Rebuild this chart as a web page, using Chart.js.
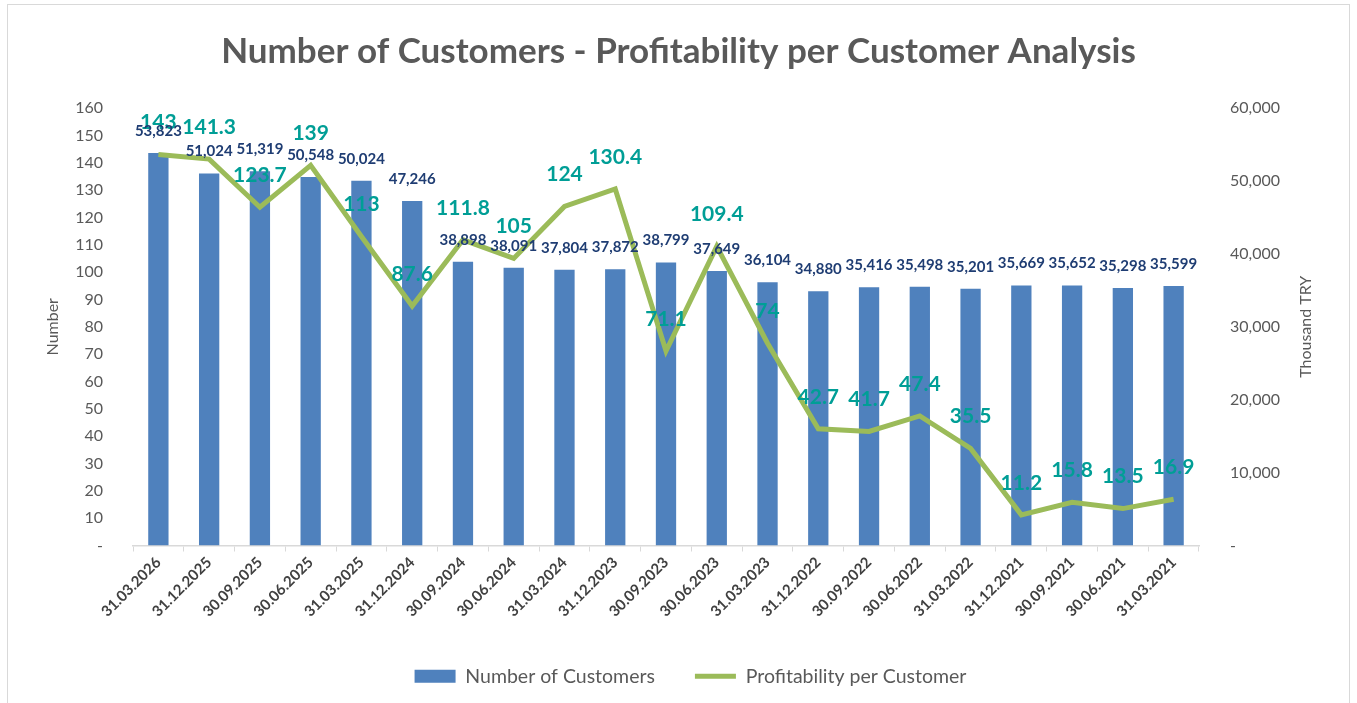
<!DOCTYPE html>
<html>
<head>
<meta charset="utf-8">
<script src="https://cdn.jsdelivr.net/npm/chart.js@4.4.1/dist/chart.umd.min.js"></script>
<style>
  html, body { margin: 0; padding: 0; background: #fff; }
  #wrap { width: 1357px; height: 703px; }
</style>
</head>
<body>
<div id="wrap"><canvas id="myChart"></canvas></div>
<script>
const fechas = ['31.03.2026', '31.12.2025', '30.09.2025', '30.06.2025', '31.03.2025', '31.12.2024',
  '30.09.2024', '30.06.2024', '31.03.2024', '31.12.2023', '30.09.2023', '30.06.2023', '31.03.2023',
  '31.12.2022', '30.09.2022', '30.06.2022', '31.03.2022', '31.12.2021', '30.09.2021', '30.06.2021', '31.03.2021'];
const clientes = [53823, 51024, 51319, 50548, 50024, 47246, 38898, 38091, 37804, 37872, 38799,
  37649, 36104, 34880, 35416, 35498, 35201, 35669, 35652, 35298, 35599];
const rentabilidad = [143, 141.3, 123.7, 139, 113, 87.6, 111.8, 105, 124, 130.4, 71.1,
  109.4, 74, 42.7, 41.7, 47.4, 35.5, 11.2, 15.8, 13.5, 16.9];
const ticksIzq = [0, 160, 10];
const ticksDer = [0, 60000, 10000];

const fuente = 'Lato, "Open Sans", sans-serif';

// labels, axis titles and the frame
const etiquetas = {
  id: 'etiquetas',
  afterLayout(chart) {
    // legend sits a little right of centre in the original
    chart.legend.left += 12;
    chart.legend.right += 12;
  },
  beforeDraw(chart) {
    const ctx = chart.ctx;
    ctx.save();
    ctx.strokeStyle = '#D9D9D9';
    ctx.lineWidth = 1;
    ctx.strokeRect(7.5, 4.5, 1342, 740);
    ctx.restore();
  },
  afterDatasetsDraw(chart) {
    const ctx = chart.ctx;
    ctx.save();
    ctx.textAlign = 'center';
    ctx.textBaseline = 'middle';

    ctx.font = 'bold 21px ' + fuente;
    ctx.fillStyle = '#009E96';
    chart.getDatasetMeta(1).data.forEach((p, i) => {
      ctx.fillText(String(rentabilidad[i]), p.x, p.y - 32);
    });

    ctx.font = 'bold 15px ' + fuente;
    ctx.fillStyle = '#1F3D73';
    chart.getDatasetMeta(0).data.forEach((b, i) => {
      ctx.fillText(clientes[i].toLocaleString('en-US'), b.x, b.y - 22);
    });

    ctx.font = '16px ' + fuente;
    ctx.fillStyle = '#595959';
    const mid = (chart.chartArea.top + chart.chartArea.bottom) / 2;
    ctx.translate(53, mid);
    ctx.rotate(-Math.PI / 2);
    ctx.fillText('Number', 0, 0);
    ctx.rotate(Math.PI / 2);
    ctx.translate(1306 - 53, 0);
    ctx.rotate(-Math.PI / 2);
    ctx.fillText('Thousand TRY', 0, 0);
    ctx.restore();
  }
};

function graficar() {
  const ctx = document.getElementById('myChart').getContext('2d');
  return new Chart(ctx, {
    type: 'bar',
    data: {
      labels: fechas,
      datasets: [{
        type: 'bar',
        label: 'Number of Customers',
        data: clientes,
        backgroundColor: '#4F81BD',
        borderWidth: 0,
        yAxisID: 'yDer',
        categoryPercentage: 1,
        barPercentage: 0.4,
        pointStyle: 'rect',
        order: 1
      }, {
        type: 'line',
        label: 'Profitability per Customer',
        data: rentabilidad,
        borderColor: '#9BBB59',
        backgroundColor: '#9BBB59',
        borderWidth: 5,
        pointRadius: 0,
        tension: 0,
        yAxisID: 'yIzq',
        pointStyle: 'line',
        order: 0
      }]
    },
    options: {
      responsive: true,
      maintainAspectRatio: false,
      animation: false,
      layout: { padding: { left: 0, right: 0, top: 0, bottom: 7 } },
      plugins: {
        title: {
          display: true,
          text: 'Number of Customers - Profitability per Customer Analysis',
          color: '#595959',
          font: { family: fuente, size: 35, weight: 'bold' },
          padding: { top: 31, bottom: 35 }
        },
        legend: {
          position: 'bottom',
          labels: {
            usePointStyle: true,
            pointStyleWidth: 41,
            boxHeight: 13,
            padding: 40,
            color: '#595959',
            font: { family: fuente, size: 19.5 },
            sort: (a, b) => a.datasetIndex - b.datasetIndex
          }
        },
        tooltip: { enabled: false }
      },
      scales: {
        x: {
          offset: true,
          grid: { offset: true, drawOnChartArea: false, drawTicks: true, tickLength: 6, color: '#D9D9D9' },
          border: { color: '#D9D9D9', width: 1.5 },
          ticks: {
            minRotation: 45, maxRotation: 45, autoSkip: false,
            color: '#404040', padding: 2,
            font: { family: fuente, size: 15, weight: 'bold' }
          },
          afterFit(scale) { scale.height = 81; }
        },
        yIzq: {
          position: 'left',
          min: ticksIzq[0], max: ticksIzq[1],
          grid: { display: false },
          border: { display: false },
          ticks: {
            stepSize: ticksIzq[2], padding: 22, color: '#595959',
            font: { family: fuente, size: 16 },
            callback: v => v === 0 ? '-' : v
          },
          afterFit(scale) { scale.width = 133; }
        },
        yDer: {
          position: 'right',
          min: ticksDer[0], max: ticksDer[1],
          grid: { display: false },
          border: { display: false },
          ticks: {
            stepSize: ticksDer[2], padding: 23, color: '#595959',
            font: { family: fuente, size: 16 },
            callback: v => v === 0 ? '-' : v.toLocaleString('en-US')
          },
          afterFit(scale) { scale.width = 158; }
        }
      }
    },
    plugins: [etiquetas]
  });
}

graficar();
</script>
</body>
</html>
